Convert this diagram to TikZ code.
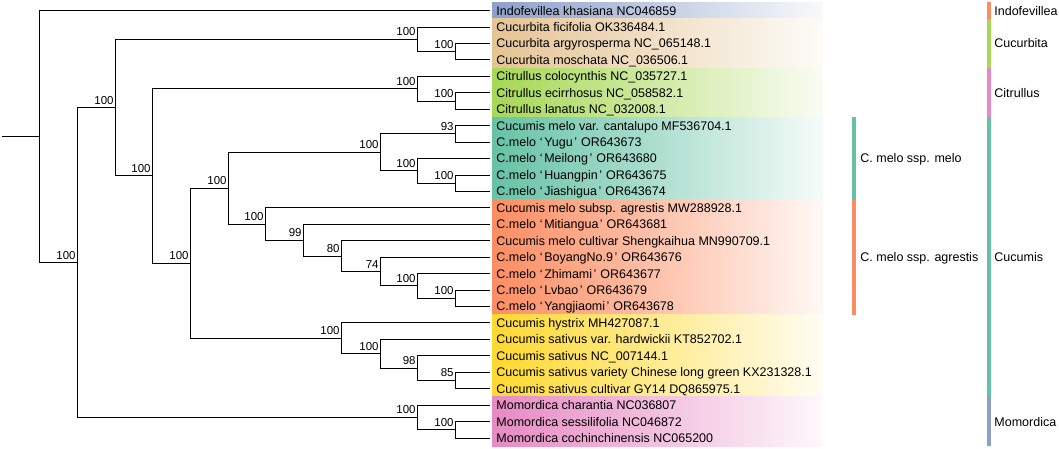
\documentclass[tikz,border=0pt]{standalone}
\usepackage{fontspec}
\setmainfont{Liberation Sans}

\definecolor{stgreen}{HTML}{66C2A5}
\definecolor{storange}{HTML}{FC8D62}
\definecolor{stblue}{HTML}{8DA0CB}
\definecolor{stpink}{HTML}{E78AC3}
\definecolor{stlime}{HTML}{A6D854}
\definecolor{styellow}{HTML}{FFD92F}
\definecolor{sttan}{HTML}{E5C494}

\newcommand\cmelo[1]{C.melo\kern4pt‘\kern1.5pt#1\kern1.5pt’\kern4pt}

\begin{document}
\begin{tikzpicture}[x=1pt,y=-16.44pt]
        \tikzstyle{every path}=[line width=0.8pt]
        \tikzstyle{leaf}=[anchor=west,inner xsep=6pt,inner ysep=0pt,text height=9pt,text depth=0pt,font=\fontsize{12.5}{15}\selectfont]
        \tikzstyle{bs}=[anchor=south east,inner sep=1pt,yshift=2pt,font=\fontsize{11.5}{14}\selectfont]
        \tikzstyle{clade}=[anchor=west,inner sep=0pt,text height=9pt,text depth=0pt,font=\fontsize{12.5}{15}\selectfont]

        \useasboundingbox (0,-0.6387) rectangle (1059,26.612);

        %coloured bands behind the names
        \foreach \a/\b/\c in {0/0/stblue, 1/3/sttan, 4/6/stlime, 7/11/stgreen, 12/18/storange, 19/23/styellow, 24/26/stpink} {
            \shade[left color=\c, right color=\c!6!white] (492,\a-0.5) rectangle (823,\b+0.5);
        };

        \foreach \t [count=\r from 0] in {
            {Indofevillea khasiana NC046859},
            {Cucurbita ficifolia OK336484.1},
            {Cucurbita argyrosperma NC\_065148.1},
            {Cucurbita moschata NC\_036506.1},
            {Citrullus colocynthis NC\_035727.1},
            {Citrullus ecirrhosus NC\_058582.1},
            {Citrullus lanatus NC\_032008.1},
            {Cucumis melo var. cantalupo MF536704.1},
            {\cmelo{Yugu}OR643673},
            {\cmelo{Meilong}OR643680},
            {\cmelo{Huangpin} OR643675},
            {\cmelo{Jiashigua} OR643674},
            {Cucumis melo subsp. agrestis MW288928.1},
            {\cmelo{Mitiangua}OR643681},
            {Cucumis melo cultivar Shengkaihua MN990709.1},
            {\cmelo{BoyangNo.9} OR643676},
            {\cmelo{Zhimami} OR643677},
            {\cmelo{Lvbao}OR643679},
            {\cmelo{Yangjiaomi}OR643678},
            {Cucumis hystrix MH427087.1},
            {Cucumis sativus var. hardwickii KT852702.1},
            {Cucumis sativus NC\_007144.1},
            {Cucumis sativus variety Chinese long green KX231328.1},
            {Cucumis sativus cultivar GY14 DQ865975.1},
            {Momordica charantia NC036807},
            {Momordica sessilifolia NC046872},
            {Momordica cochinchinensis NC065200}} {
            \node [leaf] (l\r) at (490,\r) {\t};
        };

        \coordinate (base) at (2,7.664);
        \coordinate (root) at (39,7.664);
        \coordinate (nA) at (77,15.33);
        \coordinate (nB) at (115,5.905);
        \coordinate (nC) at (152,10.06);
        \coordinate (nD) at (190,15.371);
        \coordinate (nE) at (228,10.805);
        \coordinate (nF) at (265,12.984);
        \coordinate (nG) at (303,13.969);
        \coordinate (nH) at (341,14.938);
        \coordinate (nI) at (380,15.875);
        \coordinate (nJ) at (417,16.75);
        \coordinate (nK) at (455,17.5);
        \coordinate (cuc1) at (417,1.75);
        \coordinate (cuc2) at (455,2.5);
        \coordinate (cit1) at (417,4.75);
        \coordinate (cit2) at (455,5.5);
        \coordinate (mel0) at (380,8.625);
        \coordinate (mel1) at (455,7.5);
        \coordinate (mel2) at (417,9.75);
        \coordinate (mel3) at (455,10.5);
        \coordinate (sat1) at (341,19.938);
        \coordinate (sat2) at (380,20.875);
        \coordinate (sat3) at (417,21.75);
        \coordinate (sat4) at (455,22.5);
        \coordinate (mom1) at (417,24.75);
        \coordinate (mom2) at (455,25.5);

        \draw (base) -- (root);
        \foreach \p/\c in {root/l0.west, root/nA, nA/nB, nA/mom1, nB/cuc1, nB/nC,
            cuc1/l1.west, cuc1/cuc2, cuc2/l2.west, cuc2/l3.west,
            nC/cit1, nC/nD, cit1/l4.west, cit1/cit2, cit2/l5.west, cit2/l6.west,
            nD/nE, nD/sat1, nE/mel0, nE/nF,
            mel0/mel1, mel0/mel2, mel1/l7.west, mel1/l8.west, mel2/l9.west, mel2/mel3, mel3/l10.west, mel3/l11.west,
            nF/l12.west, nF/nG, nG/l13.west, nG/nH, nH/l14.west, nH/nI, nI/l15.west, nI/nJ, nJ/l16.west, nJ/nK, nK/l17.west, nK/l18.west,
            sat1/l19.west, sat1/sat2, sat2/l20.west, sat2/sat3, sat3/l21.west, sat3/sat4, sat4/l22.west, sat4/l23.west,
            mom1/l24.west, mom1/mom2, mom2/l25.west, mom2/l26.west} {
            \draw (\p) |- (\c);
        };

        %support values
        \foreach \n/\v in {nA/100, nB/100, nC/100, nD/100, nE/100, nF/100, nG/99, nH/80, nI/74, nJ/100, nK/100,
            cuc1/100, cuc2/100, cit1/100, cit2/100, mel0/100, mel1/93, mel2/100, mel3/100,
            sat1/100, sat2/100, sat3/98, sat4/85, mom1/100, mom2/100} {
            \node [bs] (b\n) at (\n) {\v};
        };

        %subspecies and genus bars
        \fill[stgreen] (852,6.5) rectangle (856,11.5);
        \fill[storange] (852,11.5) rectangle (856,18.5);
        \node [clade] (sMelo) at (860,9) {C. melo ssp. melo};
        \node [clade] (sAgrestis) at (860,15) {C. melo ssp. agrestis};

        \foreach \a/\b/\c in {-0.5/0.5/storange, 0.5/3.5/stlime, 3.5/6.5/stpink, 6.5/23.5/stgreen, 23.5/26.5/stblue} {
            \fill[\c] (987,\a) rectangle (991,\b);
        };
        \node [clade] (gIndo) at (994,0) {Indofevillea};
        \node [clade] (gCucurbita) at (994,2) {Cucurbita};
        \node [clade] (gCitrullus) at (994,5) {Citrullus};
        \node [clade] (gCucumis) at (994,15) {Cucumis};
        \node [clade] (gMomordica) at (994,25) {Momordica};
\end{tikzpicture}
\end{document}
